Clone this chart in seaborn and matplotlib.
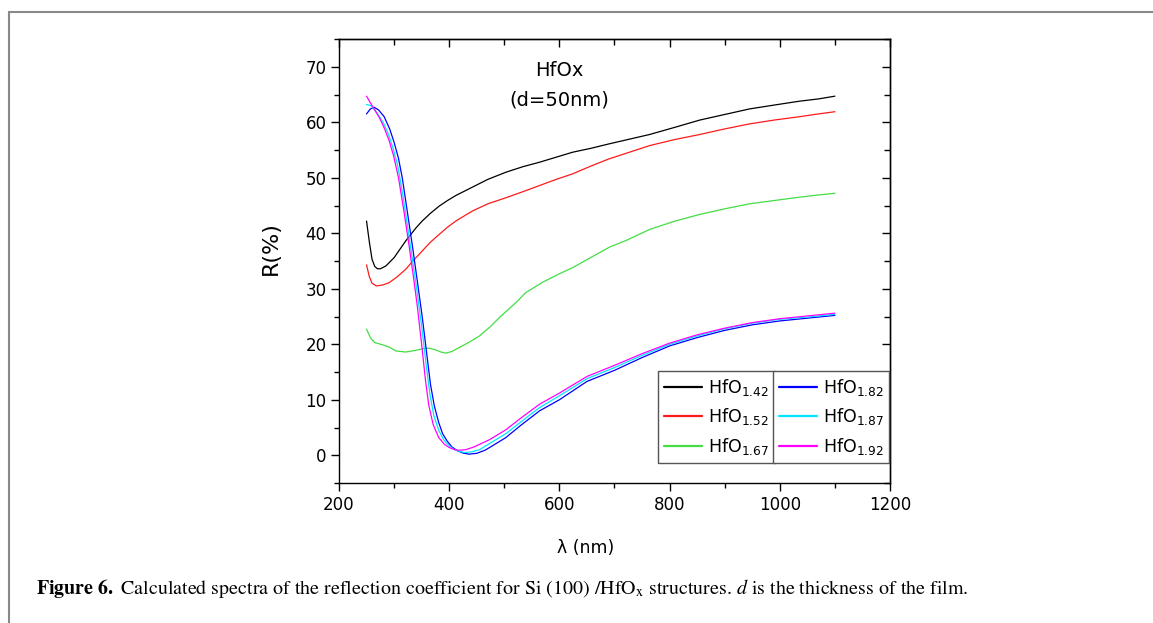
import pandas as pd
import seaborn as sns
import matplotlib.pyplot as plt
from matplotlib.lines import Line2D
from matplotlib.ticker import MultipleLocator

# Wavelength (nm) and reflection R (%), d = 50 nm
WL_142 = [250, 255, 260, 265, 270, 275, 285, 300, 321, 340, 351, 366, 382, 397,
          412, 442, 470, 503, 534, 564, 594, 624, 657, 690, 764, 810, 855, 900,
          945, 990, 1036, 1070, 1100]
R_142 = [42.2, 38.5, 35.3, 34.0, 33.6, 33.6, 34.1, 35.6, 38.6, 41.0, 42.2, 43.6,
         44.9, 45.9, 46.8, 48.3, 49.7, 51.0, 52.0, 52.8, 53.7, 54.6, 55.3, 56.1,
         57.8, 59.1, 60.4, 61.4, 62.4, 63.1, 63.8, 64.2, 64.7]

WL_152 = [250, 255, 260, 268, 280, 291, 305, 321, 335, 351, 366, 382, 397, 412,
          442, 470, 503, 534, 564, 594, 624, 657, 690, 764, 810, 855, 900, 945,
          990, 1036, 1070, 1100]
R_152 = [34.3, 32.2, 31.0, 30.5, 30.7, 31.1, 32.1, 33.5, 35.1, 36.8, 38.4, 39.8,
         41.1, 42.2, 44.0, 45.3, 46.4, 47.5, 48.6, 49.7, 50.7, 52.1, 53.4, 55.8,
         56.9, 57.8, 58.8, 59.7, 60.4, 61.0, 61.5, 61.9]

WL_167 = [250, 258, 265, 279, 291, 303, 321, 339, 352, 364, 375, 385, 394, 405,
          418, 435, 455, 475, 491, 521, 539, 570, 600, 624, 660, 691, 721, 764,
          810, 855, 900, 945, 990, 1036, 1070, 1100]
R_167 = [22.7, 21.0, 20.3, 19.9, 19.5, 18.8, 18.6, 18.9, 19.2, 19.3, 19.0, 18.6,
         18.4, 18.7, 19.4, 20.3, 21.5, 23.2, 24.8, 27.5, 29.3, 31.2, 32.7, 33.8,
         35.8, 37.5, 38.7, 40.7, 42.2, 43.4, 44.4, 45.3, 45.9, 46.5, 46.9, 47.2]

WL_182 = [250, 257, 264, 272, 282, 292, 300, 308, 315, 324, 333, 342, 351, 359,
          366, 373, 381, 388, 396, 405, 415, 425, 436, 450, 465, 480, 503, 530,
          564, 600, 650, 700, 750, 800, 850, 900, 950, 1000, 1050, 1100]
R_182 = [61.5, 62.4, 62.7, 62.2, 61.0, 58.8, 56.4, 53.5, 49.9, 43.9, 37.9, 31.5,
         25.0, 18.5, 12.8, 8.9, 5.9, 3.9, 2.6, 1.5, 0.8, 0.4, 0.2, 0.35, 0.9, 1.8,
         3.2, 5.4, 8.0, 10.0, 13.3, 15.3, 17.6, 19.7, 21.2, 22.5, 23.5, 24.2,
         24.7, 25.2]

WL_187 = [250, 258, 268, 280, 290, 299, 307, 316, 325, 334, 342, 351, 358, 365,
          372, 381, 390, 399, 408, 418, 428, 440, 455, 473, 503, 530, 564, 600,
          650, 700, 750, 800, 850, 900, 950, 1000, 1050, 1100]
R_187 = [63.2, 63.0, 61.8, 60.0, 57.8, 55.0, 52.0, 46.8, 40.9, 34.8, 29.3, 22.5,
         16.5, 11.0, 7.2, 4.5, 2.8, 1.8, 1.1, 0.7, 0.5, 0.6, 1.0, 2.1, 3.9, 6.0,
         8.6, 10.7, 13.8, 15.8, 18.0, 20.0, 21.5, 22.8, 23.8, 24.5, 24.9, 25.4]

WL_192 = [250, 260, 273, 282, 291, 299, 308, 318, 327, 336, 342, 350, 357, 363,
          371, 381, 391, 400, 410, 418, 430, 445, 473, 503, 530, 564, 600, 650,
          700, 750, 800, 850, 900, 950, 1000, 1050, 1100]
R_192 = [64.7, 63.0, 60.9, 59.0, 56.7, 54.0, 50.0, 43.9, 37.9, 31.5, 27.0, 20.0,
         13.5, 9.0, 5.5, 3.2, 2.0, 1.4, 1.0, 0.9, 1.0, 1.5, 2.8, 4.6, 6.7, 9.2,
         11.2, 14.2, 16.2, 18.3, 20.2, 21.7, 22.9, 23.9, 24.6, 25.1, 25.6]

SERIES = ["1.42", "1.52", "1.67", "1.82", "1.87", "1.92"]
COLORS = ["#000000", "#ff1a1a", "#44dd44", "#0000ff", "#00e5ff", "#ff00ff"]

CURVES = {
    "1.42": (WL_142, R_142),
    "1.52": (WL_152, R_152),
    "1.67": (WL_167, R_167),
    "1.82": (WL_182, R_182),
    "1.87": (WL_187, R_187),
    "1.92": (WL_192, R_192),
}


def build_frame():
    rows = []
    for x, (wl, r) in CURVES.items():
        for w, v in zip(wl, r):
            rows.append({"x": x, "wl": w, "R": v})
    return pd.DataFrame(rows)


df = build_frame()

sns.set_style("ticks")
plt.rcParams["font.family"] = ["DejaVu Sans"]
plt.rcParams["mathtext.fontset"] = "dejavusans"
plt.rcParams["axes.linewidth"] = 1.0
for key in ["text.color", "axes.labelcolor", "xtick.color", "ytick.color"]:
    plt.rcParams[key] = "black"

fig = plt.figure(figsize=(11.53, 6.23), dpi=100)
ax = fig.add_axes([0.2940, 0.2247, 0.4779, 0.7127])

palette = dict(zip(SERIES, COLORS))
sns.lineplot(data=df, x="wl", y="R", hue="x", hue_order=SERIES, palette=palette,
             estimator=None, sort=True, linewidth=0.9, legend=False, ax=ax)

ax.set_xlim(200, 1200)
ax.set_ylim(-5, 75)
ax.set_xticks(range(200, 1201, 200))
ax.set_yticks(range(0, 71, 10))
ax.xaxis.set_minor_locator(MultipleLocator(100))
ax.yaxis.set_minor_locator(MultipleLocator(5))
ax.tick_params(which="major", direction="out", length=6, width=1,
               labelsize=12, pad=3)
ax.tick_params(which="minor", direction="out", length=3.5, width=1)
for s in ax.spines.values():
    s.set_color("black")

# mirrored ticks pointing inward on top and right
top = ax.secondary_xaxis("top")
top.set_xticks(range(200, 1201, 200))
top.xaxis.set_minor_locator(MultipleLocator(100))
top.tick_params(which="both", direction="in", labeltop=False, width=1)
top.tick_params(which="major", length=6)
top.tick_params(which="minor", length=4)
right = ax.secondary_yaxis("right")
right.set_yticks(range(0, 71, 10))
right.yaxis.set_minor_locator(MultipleLocator(5))
right.tick_params(which="both", direction="in", labelright=False, width=1)
right.tick_params(which="major", length=6)
right.tick_params(which="minor", length=4)

ax.set_xlabel("λ (nm)", fontsize=12.5)
ax.set_ylabel("R(%)", fontsize=16)
ax.xaxis.set_label_coords(0.448, -0.125)
ax.yaxis.set_label_coords(-0.105, 0.53)

ax.text(600, 68.4, "HfOx", ha="center", va="baseline", fontsize=14)
ax.text(600, 63.0, "(d=50nm)", ha="center", va="baseline", fontsize=14)

handles = [Line2D([], [], color=c, lw=1.6) for c in COLORS]
labels = [f"HfO$_{{{x}}}$" for x in SERIES]
leg_kw = dict(loc="lower left", borderaxespad=0, frameon=True, fancybox=False,
              edgecolor="#555555", framealpha=1, fontsize=12.5, handlelength=2.2,
              handletextpad=0.3, labelspacing=0.5, borderpad=0.35)
leg1 = ax.legend(handles[:3], labels[:3], bbox_to_anchor=(0.579, 0.045), **leg_kw)
leg1.get_frame().set_linewidth(1.0)
ax.add_artist(leg1)
leg2 = ax.legend(handles[3:], labels[3:], bbox_to_anchor=(0.788, 0.045), **leg_kw)
leg2.get_frame().set_linewidth(1.0)

# caption under the chart
fig.text(36 / 1153, 1 - 594 / 623,
         r"$\mathbf{Figure\ 6.}$ Calculated spectra of the reflection coefficient "
         r"for Si (100) /HfO$_\mathrm{x}$ structures. $\mathit{d}$ is the thickness of the film.",
         family="STIXGeneral", math_fontfamily="stix", fontsize=14.4, va="baseline")

# page frame, left and top edges
fig.add_artist(Line2D([9 / 1153, 9 / 1153], [0, 1 - 11.5 / 623],
                      transform=fig.transFigure, color="#888888", lw=1.5))
fig.add_artist(Line2D([9 / 1153, 1], [1 - 11.5 / 623, 1 - 11.5 / 623],
                      transform=fig.transFigure, color="#888888", lw=1.5))

fig.savefig("out.png", dpi=100)
